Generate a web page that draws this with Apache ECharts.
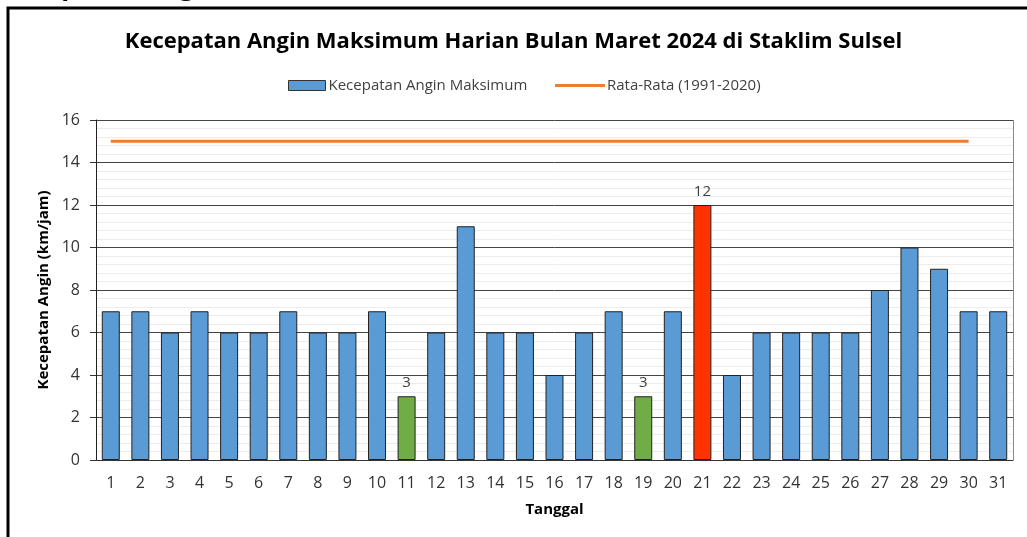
<!DOCTYPE html>
<html><head><meta charset="utf-8">
<script src="https://cdn.jsdelivr.net/npm/echarts@6/dist/echarts.min.js"></script>
<style>html,body{margin:0;padding:0;background:#fff}#c{width:1027px;height:537px}</style>
</head><body><div id="c"></div>
<script>
const days = ['1','2','3','4','5','6','7','8','9','10','11','12','13','14','15','16','17','18','19','20','21','22','23','24','25','26','27','28','29','30','31'];
const maxWind = [7,7,6,7,6,6,7,6,6,7,3,6,11,6,6,4,6,7,3,7,12,4,6,6,6,6,8,10,9,7,7];
const average = [15,15,15,15,15,15,15,15,15,15,15,15,15,15,15,15,15,15,15,15,15,15,15,15,15,15,15,15,15,15,null];
const labeledDays = {'11':'#70AD47','19':'#70AD47','21':'#FF3300'};
const yTicks = [0,2,4,6,8,10,12,14,16];

const FONT = 'Open Sans';
const chart = echarts.init(document.getElementById('c'));
const barData = maxWind.map((v,i)=>{
  const c = labeledDays[days[i]];
  return c ? {value:v, itemStyle:{color:c}, label:{show:true}} : {value:v};
});
chart.setOption({
  animation:false,
  textStyle:{fontFamily:FONT},
  title:{text:'Kecepatan Angin Maksimum Harian Bulan Maret 2024 di Staklim Sulsel',left:'center',top:26,
    textStyle:{fontFamily:FONT,fontSize:22,fontWeight:'bold',color:'#000'}},
  graphic:[
    {type:'rect',shape:{x:8,y:8,width:1040,height:560},style:{fill:'none',stroke:'#000',lineWidth:3},silent:true},
    {type:'text',x:0,y:1,style:{text:'Kecepatan Angin',font:'bold 26px "Open Sans"',fill:'#000',verticalAlign:'bottom'}}
  ],
  legend:[
    {data:[{name:'Kecepatan Angin Maksimum',icon:'rect'}],left:283,top:73,itemWidth:37,itemHeight:10,itemGap:4,
      textStyle:{fontFamily:FONT,fontSize:15,color:'#404040',padding:[0,0,0,-2]},
      itemStyle:{borderColor:'#333',borderWidth:1}},
    {data:[{name:'Rata-Rata (1991-2020)',icon:'rect'}],left:550,top:73,itemWidth:50,itemHeight:3,
      textStyle:{fontFamily:FONT,fontSize:15,color:'#404040',padding:[0,0,0,-3]},
      itemStyle:{color:'#ED7D31'}}
  ],
  grid:{left:96,right:14,top:120,bottom:77},
  xAxis:{type:'category',data:days,
    name:'Tanggal',nameLocation:'middle',nameGap:42,
    nameTextStyle:{fontFamily:FONT,fontSize:15,fontWeight:'bold',color:'#000'},
    axisLine:{lineStyle:{color:'#333',width:1}},
    axisTick:{alignWithLabel:true,length:5,lineStyle:{color:'#333'}},
    axisLabel:{fontSize:16,color:'#333',margin:15}},
  yAxis:{type:'value',min:0,max:16,interval:2,
    name:'Kecepatan Angin (km/jam)',nameLocation:'middle',nameGap:45,
    nameTextStyle:{fontFamily:FONT,fontSize:15,fontWeight:'bold',color:'#000'},
    axisLine:{show:true,lineStyle:{color:'#222'}},
    axisTick:{show:true,length:6,lineStyle:{color:'#333'}},
    axisLabel:{fontSize:16,color:'#333',margin:16,formatter:v=>yTicks.includes(v)?String(v):''},
    splitLine:{lineStyle:{color:'#444',width:1}},
    minorTick:{show:false,splitNumber:5},
    minorSplitLine:{show:true,lineStyle:{color:'#ececec',width:1}}},
  series:[
    {name:'Kecepatan Angin Maksimum',type:'bar',data:barData,barWidth:18,
      itemStyle:{color:'#5B9BD5',borderColor:'#222',borderWidth:1},
      label:{show:false,position:'top',fontSize:15,color:'#404040',distance:6}},
    {name:'Rata-Rata (1991-2020)',type:'line',data:average,symbol:'none',
      lineStyle:{color:'#ED7D31',width:3},itemStyle:{color:'#ED7D31'}},
    {type:'line',data:[],markLine:{silent:true,symbol:'none',label:{show:false},
      lineStyle:{color:'#888',type:'solid',width:1},data:[[{x:1013,y:120},{x:1013,y:460}]]}}
  ]
});
</script></body></html>
